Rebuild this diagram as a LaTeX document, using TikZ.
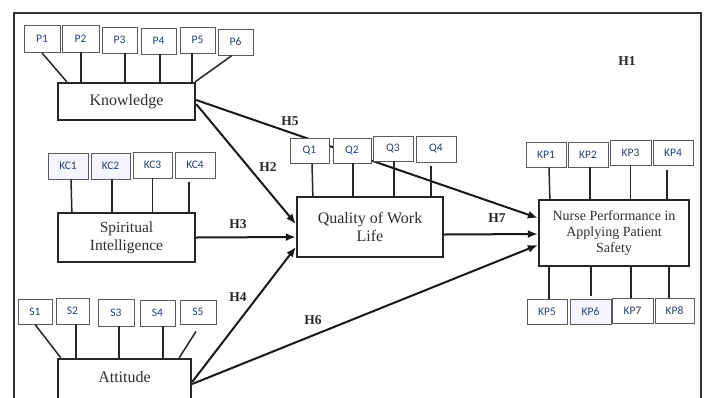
\documentclass[tikz,border=0pt]{standalone}
\usepackage{fontspec}
\setmainfont{Liberation Serif}
\newfontfamily\indf{Carlito}
\usetikzlibrary{arrows.meta,calc}
\definecolor{navy}{HTML}{25406E}
\definecolor{boxgray}{HTML}{5A5A5A}
\definecolor{txtgray}{HTML}{2E2E2E}
\tikzset{
  ind/.style={draw=boxgray,line width=0.9pt,fill=white,inner sep=0pt,font=\indf\fontsize{11.5}{12}\selectfont,text=navy},
  indfill/.style={ind,fill=blue!4!white},
  latent/.style={draw=black!85,line width=2.3pt,fill=white,inner sep=0pt,align=center,text=txtgray},
  lt/.style={font=\fontsize{16}{18}\selectfont},
  link/.style={draw=black!85,line width=1.5pt},
  arr/.style={draw=black!90,line width=2pt,-{Latex[length=10pt,width=8pt]}},
  hyp/.style={font=\bfseries\fontsize{13.5}{14}\selectfont,text=black!85,inner sep=0pt}
}
\begin{document}
\begin{tikzpicture}[x=1pt,y=-1pt]
\useasboundingbox (0,0) rectangle (706,397);
\fill[white] (0,0) rectangle (706,397);
% frame
\draw[line width=2pt,draw=black!80] (14,400) -- (14,13) -- (701,13) -- (701,400);

% latent variables
\node[latent,lt,minimum width=137pt,minimum height=37pt] (know) at (126.5,101.5) {Knowledge};
\node[latent,font=\fontsize{15.5}{18}\selectfont,minimum width=137pt,minimum height=49pt] (spirit) at (126.5,237.5) {Spiritual\\Intelligence};
\node[latent,minimum width=133pt,minimum height=60pt] (att) at (124.5,389) {};
\node[lt,text=txtgray,inner sep=0pt] (attt) at (124.5,377) {Attitude};
\node[latent,lt,minimum width=146pt,minimum height=60pt] (qwl) at (370,227) {Quality of Work\\Life};
\node[latent,font=\fontsize{14}{16}\selectfont,minimum width=150pt,minimum height=66pt] (np) at (614,233) {Nurse Performance in\\Applying Patient\\Safety};

% H5 path passes behind the Q indicators
\draw[arr] ([yshift=1.5pt]know.east) -- ([yshift=15pt]np.west);

% Knowledge indicators
\node[ind,minimum width=36pt,minimum height=27pt] (p1) at (42,39) {P1};
\node[ind,minimum width=37pt,minimum height=27pt] (p2) at (80.5,38.5) {P2};
\node[ind,minimum width=35pt,minimum height=26pt] (p3) at (119.5,40) {P3};
\node[ind,minimum width=35pt,minimum height=26pt] (p4) at (158.5,41) {P4};
\node[ind,minimum width=35pt,minimum height=26pt] (p5) at (197.5,40) {P5};
\node[ind,minimum width=35pt,minimum height=26pt] (p6) at (235.5,42) {P6};
\draw[link] (p1.south) -- ([xshift=10pt]know.north west);
\draw[link] ([xshift=0.5pt]p2.south) -- ([xshift=0.5pt]p2.south |- know.north);
\draw[link] ([xshift=5.5pt]p3.south) -- ([xshift=5.5pt]p3.south |- know.north);
\draw[link] ([xshift=1.5pt]p4.south) -- ([xshift=1.5pt]p4.south |- know.north);
\draw[link] ([xshift=-5.5pt]p5.south) -- ([xshift=-5.5pt]p5.south |- know.north);
\draw[link] ([xshift=-3.5pt]p6.south) -- ([xshift=-1pt]know.north east);

% Spiritual indicators
\node[indfill,minimum width=40pt,minimum height=26pt] (kc1) at (68,166) {KC1};
\node[indfill,minimum width=39pt,minimum height=26pt] (kc2) at (110.5,166) {KC2};
\node[ind,minimum width=39pt,minimum height=26pt] (kc3) at (152.5,165) {KC3};
\node[ind,minimum width=40pt,minimum height=26pt] (kc4) at (195,165) {KC4};
\draw[link] ([xshift=3pt]kc1.south) -- ([xshift=15pt]spirit.north west);
\draw[link] ([xshift=1.5pt]kc2.south) -- ([xshift=1.5pt]kc2.south |- spirit.north);
\draw[link] (kc3.south) -- (kc3.south |- spirit.north);
\draw[link] ([xshift=-6pt,yshift=-4pt]kc4.south) -- ([xshift=-6pt]kc4.south |- spirit.north);

% Attitude indicators
\node[ind,minimum width=34pt,minimum height=25pt] (s1) at (35,311.5) {S1};
\node[ind,minimum width=33pt,minimum height=26pt] (s2) at (72.5,311) {S2};
\node[ind,minimum width=36pt,minimum height=27pt] (s3) at (116,312.5) {S3};
\node[ind,minimum width=35pt,minimum height=26pt] (s4) at (157.5,313) {S4};
\node[ind,minimum width=36pt,minimum height=24pt] (s5) at (198,312) {S5};
\draw[link] (s1.south) -- ([xshift=4pt]att.north west);
\draw[link] ([xshift=3.5pt]s2.south) -- ([xshift=3.5pt]s2.south |- att.north);
\draw[link] ([xshift=3pt]s3.south) -- ([xshift=3pt]s3.south |- att.north);
\draw[link] ([xshift=5.5pt]s4.south) -- ([xshift=5.5pt]s4.south |- att.north);
\draw[link] ([xshift=-2pt,yshift=-7pt]s5.south) -- ([xshift=-13pt]att.north east);

% QWL indicators
\node[ind,minimum width=39pt,minimum height=25pt] (q1) at (309.5,150.5) {Q1};
\node[ind,minimum width=38pt,minimum height=25pt] (q2) at (352,150.5) {Q2};
\node[ind,minimum width=40pt,minimum height=25pt] (q3) at (393,148.5) {Q3};
\node[ind,minimum width=40pt,minimum height=26pt] (q4) at (436,149) {Q4};
\draw[link] ([xshift=2.5pt]q1.south) -- ([xshift=17pt]qwl.north west);
\draw[link] ([xshift=1pt]q2.south) -- ([xshift=1pt]q2.south |- qwl.north);
\draw[link] ([xshift=1pt]q3.south) -- ([xshift=1pt]q3.south |- qwl.north);
\draw[link] ([xshift=-5pt,yshift=-4pt]q4.south) -- ([xshift=-5pt]q4.south |- qwl.north);

% NP indicators top
\node[ind,minimum width=40pt,minimum height=25pt] (kp1) at (546,154.5) {KP1};
\node[ind,minimum width=40pt,minimum height=25pt] (kp2) at (588,154.5) {KP2};
\node[ind,minimum width=41pt,minimum height=25pt] (kp3) at (630.5,152.5) {KP3};
\node[ind,minimum width=40pt,minimum height=25pt] (kp4) at (673,152.5) {KP4};
\draw[link] ([xshift=3pt]kp1.south) -- ([xshift=12pt]np.north west);
\draw[link] ([xshift=2pt]kp2.south) -- ([xshift=2pt]kp2.south |- np.north);
\draw[link] (kp3.south) -- (kp3.south |- np.north);
\draw[link] ([xshift=-6pt,yshift=-5pt]kp4.south) -- ([xshift=-6pt]kp4.south |- np.north);

% NP indicators bottom
\node[ind,minimum width=40pt,minimum height=25pt] (kp5) at (547,311.5) {KP5};
\node[indfill,minimum width=41pt,minimum height=25pt] (kp6) at (590.5,311.5) {KP6};
\node[ind,minimum width=41pt,minimum height=25pt] (kp7) at (632.5,310.5) {KP7};
\node[ind,minimum width=39pt,minimum height=25pt] (kp8) at (674.5,310.5) {KP8};
\draw[link] ([xshift=2pt]kp5.north) -- ([xshift=2pt]kp5.north |- np.south);
\draw[link] ([xshift=0.5pt,yshift=3pt]kp6.north) -- ([xshift=0.5pt]kp6.north |- np.south);
\draw[link] ([xshift=-1.5pt]kp7.north) -- ([xshift=-1.5pt]kp7.north |- np.south);
\draw[link] ([xshift=-5.5pt]kp8.north) -- ([xshift=-5.5pt]kp8.north |- np.south);

% structural paths
\draw[arr] ([yshift=-2.5pt]know.east) -- ([yshift=3pt]qwl.west);
\draw[arr] (spirit.east) -- ([yshift=-10pt]qwl.west);
\draw[arr] ([yshift=7pt]att.east) -- ([yshift=-20pt]qwl.west);
\draw[arr] ([yshift=5pt]att.east) -- ([yshift=-12pt]np.west);
\draw[arr] ([yshift=-7.5pt]qwl.east) -- ([yshift=-1pt]np.west);

% hypothesis labels
\node[hyp] (h1) at (627,61) {H1};
\node[hyp] (h2) at (268,167) {H2};
\node[hyp] (h3) at (238,224) {H3};
\node[hyp] (h4) at (238,297) {H4};
\node[hyp] (h5) at (290,121) {H5};
\node[hyp] (h6) at (313,320) {H6};
\node[hyp] (h7) at (497,218) {H7};
\end{tikzpicture}
\end{document}
